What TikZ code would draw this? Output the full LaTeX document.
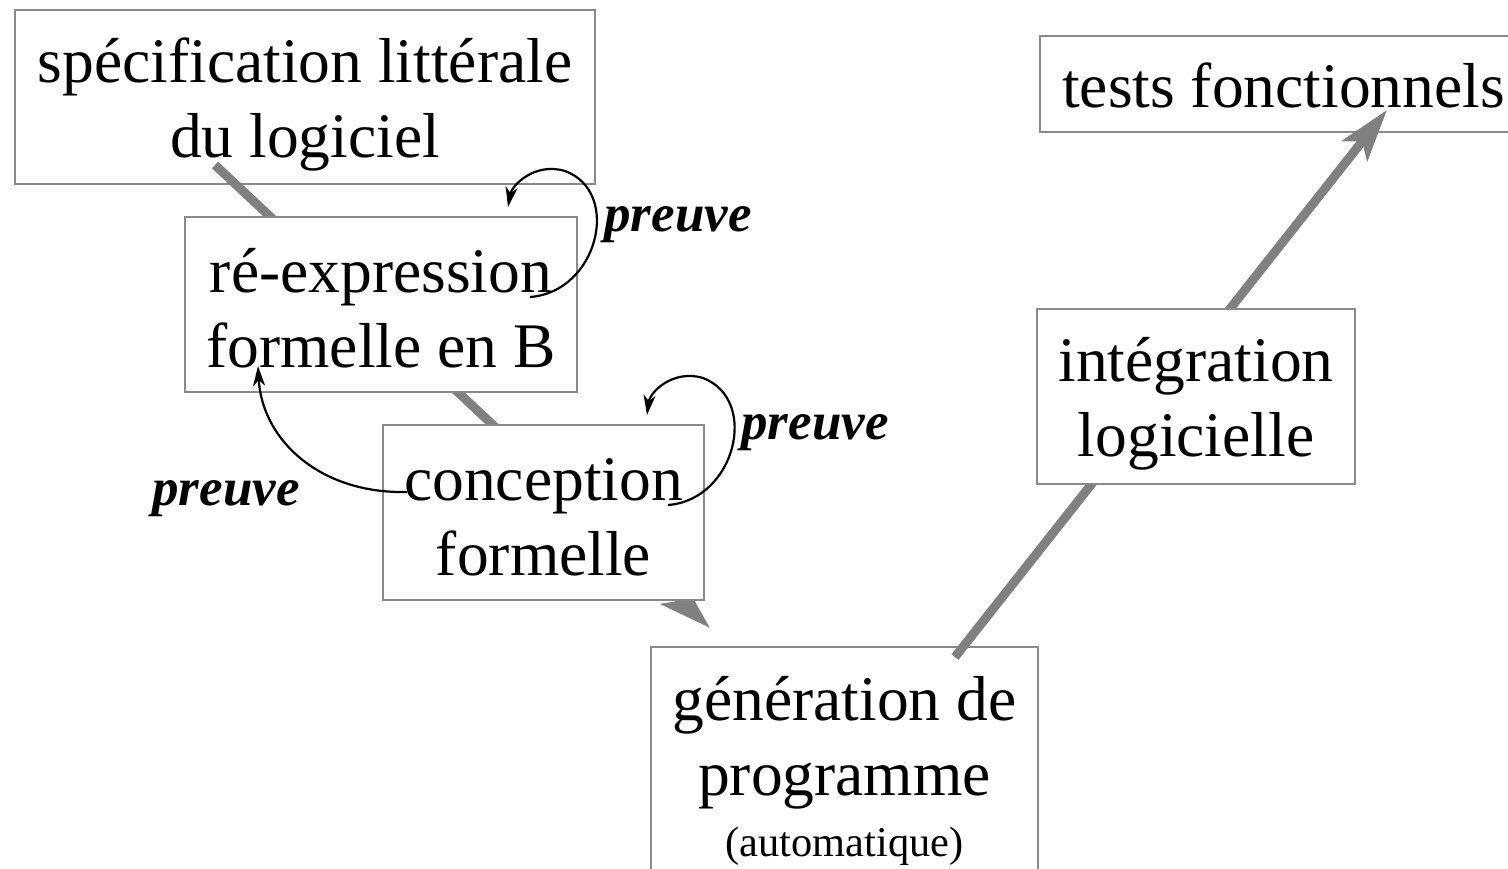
\documentclass[tikz,border=0pt]{standalone}
\usepackage{fontspec}
\setmainfont{Liberation Serif}
\usetikzlibrary{arrows.meta}
\definecolor{boxgray}{HTML}{8A8A8A}
\definecolor{flowgray}{HTML}{808080}
\newcommand{\topstrut}[1]{\rule{0pt}{#1}}
\tikzset{
  stagebox/.style={draw=boxgray, line width=2pt, fill=white, inner sep=0pt,
    align=center, font=\fontsize{63.5}{75}\selectfont},
  flowline/.style={draw=flowgray, line width=9pt,
    -{Stealth[length=52pt,width=32pt,inset=12pt]}},
  prooflabel/.style={font=\fontsize{53}{60}\selectfont\bfseries\itshape, inner sep=0pt},
  proofarrow/.style={line width=2.2pt, -{Stealth[length=20pt,width=12pt,inset=6pt]}}
}
\begin{document}
\begin{tikzpicture}[x=1pt,y=-1pt]
\useasboundingbox (0,0) rectangle (1508,869);
% boxes underneath the flow lines
\node[stagebox, minimum width=387pt, minimum height=240pt] (gen) at (844.5,767)
  {\topstrut{53pt}génération de\\programme\\[-14pt]{\fontsize{42.4}{50}\selectfont (automatique)}};
\node[stagebox, minimum width=487pt, minimum height=96pt] (tests) at (1283.5,84) {\topstrut{48pt}tests fonctionnels};
\node[stagebox, minimum width=580pt, minimum height=174pt] (spec) at (305,97) {\topstrut{59pt}spécification littérale\\du logiciel};
% flow lines
\coordinate (f1s) at (215,165);
\coordinate (f1e) at (710,628);
\coordinate (f2s) at (955,657);
\coordinate (f2e) at (1387,110);
\draw[flowline] (f1s) -- (f1e);
\draw[flowline] (f2s) -- (f2e);
% boxes on top
\node[stagebox, minimum width=392pt, minimum height=175pt] (reexp) at (381,304.5) {\topstrut{52pt}ré-expression\\formelle en B};
\node[stagebox, minimum width=321pt, minimum height=175pt] (conc) at (543.5,512.5) {\topstrut{52pt}conception\\formelle};
\node[stagebox, minimum width=318pt, minimum height=175pt] (integ) at (1196,396.5) {\topstrut{59pt}intégration\\logicielle};
% proof labels
\node[prooflabel] (pA) at (678,225) {preuve};
\node[prooflabel] (pB) at (815,433) {preuve};
\node[prooflabel] (pC) at (226,499) {preuve};
% proof arrows
\coordinate (aS) at (530,297);
\coordinate (aE) at (508,207);
\draw[proofarrow] (aS) .. controls (598,292) and (622,192) .. (565,171)
  .. controls (535,162) and (512,185) .. (aE);
\coordinate (cS) at (668,505);
\coordinate (cE) at (647,415);
\draw[proofarrow] (cS) .. controls (735,500) and (760,400) .. (703,378)
  .. controls (673,369) and (650,392) .. (cE);
\coordinate (bS) at (407,492);
\coordinate (bE) at (258,366);
\draw[proofarrow] (bS) .. controls (320,494) and (262,440) .. (bE);
\end{tikzpicture}
\end{document}
